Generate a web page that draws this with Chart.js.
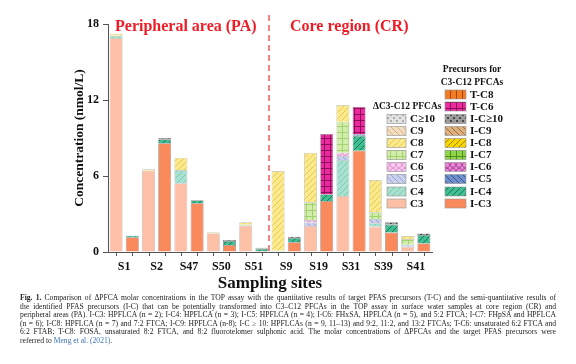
<!DOCTYPE html>
<html lang="en">
<head>
<meta charset="UTF-8">
<title>ΔPFCAs and PFAS precursors</title>
<script src="https://cdn.jsdelivr.net/npm/chart.js"></script>
<style>
  body { margin: 0; background: #fff; }
  #wrap { position: relative; width: 576px; height: 364px; }
  #cap { position: absolute; left: 20px; top: 294px; width: 536px;
         font: 7.6px/8.6px "Liberation Serif", "Times New Roman", serif; color: #222; }
  #cap div { text-align: justify; text-align-last: justify; white-space: nowrap; }
  #cap div.last { text-align-last: left; }
  #cap a { color: #3b73b9; text-decoration: none; }
</style>
</head>
<body>
<div id="wrap">
  <canvas id="chart" width="576" height="300"></canvas>
  <div id="cap">
    <div><b>Fig. 1.</b> Comparison of ΔPFCA molar concentrations in the TOP assay with the quantitative results of target PFAS precursors (T-C) and the semi-quantitative results of</div>
    <div>the identified PFAS precursors (I-C) that can be potentially transformed into C3–C12 PFCAs in the TOP assay in surface water samples at core region (CR) and</div>
    <div>peripheral areas (PA). I-C3: HPFLCA (n = 2); I-C4: HPFLCA (n = 3); I-C5: HPFLCA (n = 4); I-C6: FHxSA, HPFLCA (n = 5), and 5:2 FTCA; I-C7: FHpSA and HPFLCA</div>
    <div>(n = 6); I-C8: HPFLCA (n = 7) and 7:2 FTCA; I-C9: HPFLCA (n-8); I-C ≥ 10: HPFLCAs (n = 9, 11–13) and 9:2, 11:2, and 13:2 FTCAs; T-C6: unsaturated 6:2 FTCA and</div>
    <div>6:2 FTAB; T-C8: FOSA, unsaturated 8:2 FTCA, and 8:2 fluorotelomer sulphonic acid. The molar concentrations of ΔPFCAs and the target PFAS precursors were</div>
    <div class="last">referred to <a href="#">Meng et al. (2021)</a>.</div>
  </div>
</div>

<script>
// sampling sites
const sites = ["S1", "S2", "S47", "S50", "S51", "S9", "S19", "S31", "S39", "S41"];

// ΔC3-C12 PFCAs (light bars), nmol/L
const dC3  = [16.9, 6.42, 5.42, 1.47, 2.08, 0, 2.05, 4.42, 2.0, 0.42];
const dC4  = [0.17, 0, 1.05, 0, 0.08, 0.1, 0, 2.84, 0.26, 0];
const dC5  = [0, 0, 0, 0, 0, 0, 0.27, 0.32, 0.34, 0.16];
const dC6  = [0, 0, 0, 0, 0, 0, 0.21, 0.26, 0, 0];
const dC7  = [0, 0, 0, 0, 0, 0, 1.39, 2.45, 0.53, 0.45];
const dC8  = [0.16, 0.11, 0.97, 0.08, 0.18, 6.29, 3.92, 1.31, 2.55, 0.23];
const dC9  = [0, 0, 0, 0, 0, 0, 0, 0, 0, 0];
const dC10 = [0, 0, 0, 0, 0, 0, 0, 0, 0, 0];

// precursors for C3-C12 PFCAs (dark bars), nmol/L
const iC3  = [1.16, 8.58, 3.84, 0.55, 0.08, 0.76, 4.03, 8.0, 1.53, 0.68];
const iC4  = [0.13, 0.32, 0.24, 0.32, 0.18, 0.35, 0.52, 1.18, 0.63, 0.66];
const iC5  = [0, 0, 0, 0, 0, 0, 0, 0.12, 0, 0];
const iC6  = [0, 0, 0, 0, 0, 0, 0, 0, 0, 0];
const iC7  = [0, 0, 0, 0, 0, 0, 0, 0, 0, 0];
const iC8  = [0, 0, 0, 0, 0, 0, 0, 0, 0, 0];
const iC9  = [0, 0, 0, 0, 0, 0, 0, 0, 0, 0];
const iC10 = [0, 0.1, 0, 0.08, 0.08, 0.1, 0, 0, 0.18, 0.13];
const tC6  = [0, 0, 0, 0, 0, 0, 4.76, 2.17, 0, 0];
const tC8  = [0, 0, 0, 0, 0, 0, 0, 0, 0, 0];

const yTicks = [0, 6, 12, 18];

const SERIF = '"Liberation Serif", "Times New Roman", serif';

// small repeating fill patterns (hatch, grid, dots ...)
function pat(bg, fg, kind) {
    const c = document.createElement("canvas");
    c.width = 6; c.height = 6;
    const g = c.getContext("2d");
    g.fillStyle = bg;
    g.fillRect(0, 0, 6, 6);
    g.strokeStyle = fg; g.fillStyle = fg; g.lineWidth = 1;
    g.beginPath();
    if (kind === "/") {
        g.moveTo(-1, 7); g.lineTo(7, -1);
    } else if (kind === "\\") {
        g.moveTo(-1, -1); g.lineTo(7, 7);
    } else if (kind === "x") {
        g.arc(3, 3, 2.6, 0, Math.PI * 2);
    } else if (kind === "#") {
        g.moveTo(0, 0.5); g.lineTo(6, 0.5);
        g.moveTo(0.5, 0); g.lineTo(0.5, 6);
    } else if (kind === "|") {
        g.moveTo(0.5, 0); g.lineTo(0.5, 6);
    }
    g.stroke();
    if (kind === ".") {
        g.fillRect(0, 0, 2, 2); g.fillRect(3, 3, 2, 2);
    }
    return g.createPattern(c, "repeat");
}

const dStyles = [
    ["C3",   dC3,  pat("#fdc0a7", "#fdc0a7", "")],
    ["C4",   dC4,  pat("#a9e1d0", "#7ccab3", "/")],
    ["C5",   dC5,  pat("#c8d0ec", "#95a4d4", "\\")],
    ["C6",   dC6,  pat("#f7cdee", "#e392d6", "x")],
    ["C7",   dC7,  pat("#d2eca9", "#a2d26f", "#")],
    ["C8",   dC8,  pat("#fbe98f", "#e9cb45", "/")],
    ["C9",   dC9,  pat("#f3ddc0", "#d8b282", "\\")],
    ["C≥10", dC10, pat("#e2e2e2", "#ababab", ".")]
];
const pStyles = [
    ["I-C3",   iC3,  pat("#fa8a5c", "#fa8a5c", "")],
    ["I-C4",   iC4,  pat("#3fbe92", "#1d7556", "/")],
    ["I-C5",   iC5,  pat("#6e8fcb", "#3a5590", "\\")],
    ["I-C6",   iC6,  pat("#ec88d8", "#ad4c9e", "x")],
    ["I-C7",   iC7,  pat("#8fd448", "#4f8f1e", "#")],
    ["I-C8",   iC8,  pat("#fad700", "#9b8200", "/")],
    ["I-C9",   iC9,  pat("#ddb07e", "#9c7045", "\\")],
    ["I-C≥10", iC10, pat("#9c9c9c", "#4a4a4a", ".")],
    ["T-C6",   tC6,  pat("#ea2a9e", "#8e0c58", "#")],
    ["T-C8",   tC8,  pat("#f27b23", "#a34708", "|")]
];

const datasets = [];
dStyles.forEach(s => datasets.push({
    label: "Δ" + s[0], data: s[1], stack: "delta",
    backgroundColor: s[2], borderColor: "rgba(170,170,170,0.8)", borderWidth: 0.7
}));
pStyles.forEach(s => datasets.push({
    label: s[0], data: s[1], stack: "prec",
    backgroundColor: s[2], borderColor: "rgba(110,110,110,0.8)", borderWidth: 0.7
}));

// texts, legends, dashed divider and small x ticks
const decor = {
    id: "decor",
    afterDraw(chart) {
        const ctx = chart.ctx;
        const x = chart.scales.x, ca = chart.chartArea;
        ctx.save();

        // x tick marks under every bar
        ctx.strokeStyle = "#555"; ctx.lineWidth = 1;
        [0, dStyles.length].forEach(di => {
            chart.getDatasetMeta(di).data.forEach(b => {
                const px = Math.round(b.x) + 0.5;
                ctx.beginPath(); ctx.moveTo(px, ca.bottom); ctx.lineTo(px, ca.bottom + 4); ctx.stroke();
            });
        });

        // divider between PA and CR
        const xd = (x.getPixelForValue(4) + x.getPixelForValue(5)) / 2 - 1;
        ctx.strokeStyle = "#f25c5c"; ctx.lineWidth = 1.5; ctx.setLineDash([6, 4]);
        ctx.beginPath(); ctx.moveTo(xd, 15); ctx.lineTo(xd, ca.bottom); ctx.stroke();
        ctx.setLineDash([]);

        // region titles
        ctx.fillStyle = "#ee1c25";
        ctx.font = "bold 16px " + SERIF;
        ctx.textBaseline = "middle"; ctx.textAlign = "left";
        ctx.fillText("Peripheral area (PA)", 115, 27);
        ctx.fillText("Core region (CR)", 290, 27);

        // legends
        ctx.fillStyle = "#111";
        ctx.font = "bold 9.5px " + SERIF;
        ctx.fillText("ΔC3-C12 PFCAs", 373, 107);
        ctx.textAlign = "center";
        ctx.fillText("Precursors for", 472, 70);
        ctx.fillText("C3-C12 PFCAs", 472, 83);
        ctx.textAlign = "left";
        ctx.font = "bold 11px " + SERIF;
        const box = (ds, bx, by, w, txt) => {
            ctx.fillStyle = ds.backgroundColor;
            ctx.fillRect(bx, by - 4.5, w, 9);
            ctx.strokeStyle = "rgba(150,150,150,0.9)"; ctx.lineWidth = 0.7;
            ctx.strokeRect(bx, by - 4.5, w, 9);
            ctx.fillStyle = "#111";
            ctx.fillText(txt, bx + w + 4, by + 0.5);
        };
        const dRows = [203.5, 191.5, 179, 167, 155, 143, 131, 119];
        dStyles.forEach((s, i) => box(chart.data.datasets[i], 387, dRows[i], 19, s[0]));
        const pRows = [203.5, 191.5, 179, 167, 155, 143, 131, 119, 106.5, 94.5];
        pStyles.forEach((s, i) => box(chart.data.datasets[dStyles.length + i], 445, pRows[i], 21, s[0]));

        ctx.restore();
    }
};

new Chart(document.getElementById("chart"), {
    type: "bar",
    data: { labels: sites, datasets: datasets },
    options: {
        responsive: false,
        animation: false,
        layout: { padding: { left: 67, right: 144, top: 24, bottom: 6 } },
        plugins: { legend: { display: false }, tooltip: { enabled: false } },
        datasets: { bar: { categoryPercentage: 1.0, barPercentage: 0.8 } },
        scales: {
            x: {
                stacked: true,
                grid: { display: false },
                border: { display: true, color: "#555", width: 1 },
                ticks: { color: "#111", padding: 0, font: { family: SERIF, size: 12, weight: "bold" } },
                title: { display: true, text: "Sampling sites", color: "#111", padding: 0,
                         font: { family: SERIF, size: 17, weight: "bold" } },
                afterFit: s => { s.height = 42; }
            },
            y: {
                stacked: true,
                min: 0, max: 18,
                afterBuildTicks: s => { s.ticks = yTicks.map(v => ({ value: v })); },
                grid: { drawOnChartArea: false, color: "#555", tickLength: 5 },
                border: { display: true, color: "#555", width: 1 },
                ticks: { color: "#111", padding: 4, font: { family: SERIF, size: 12, weight: "bold" } },
                title: { display: true, text: "Concentration (nmol/L)", color: "#111",
                         font: { family: SERIF, size: 13.5, weight: "bold" } },
                afterFit: s => { s.width = 41; }
            }
        }
    },
    plugins: [decor]
});
</script>
</body>
</html>
